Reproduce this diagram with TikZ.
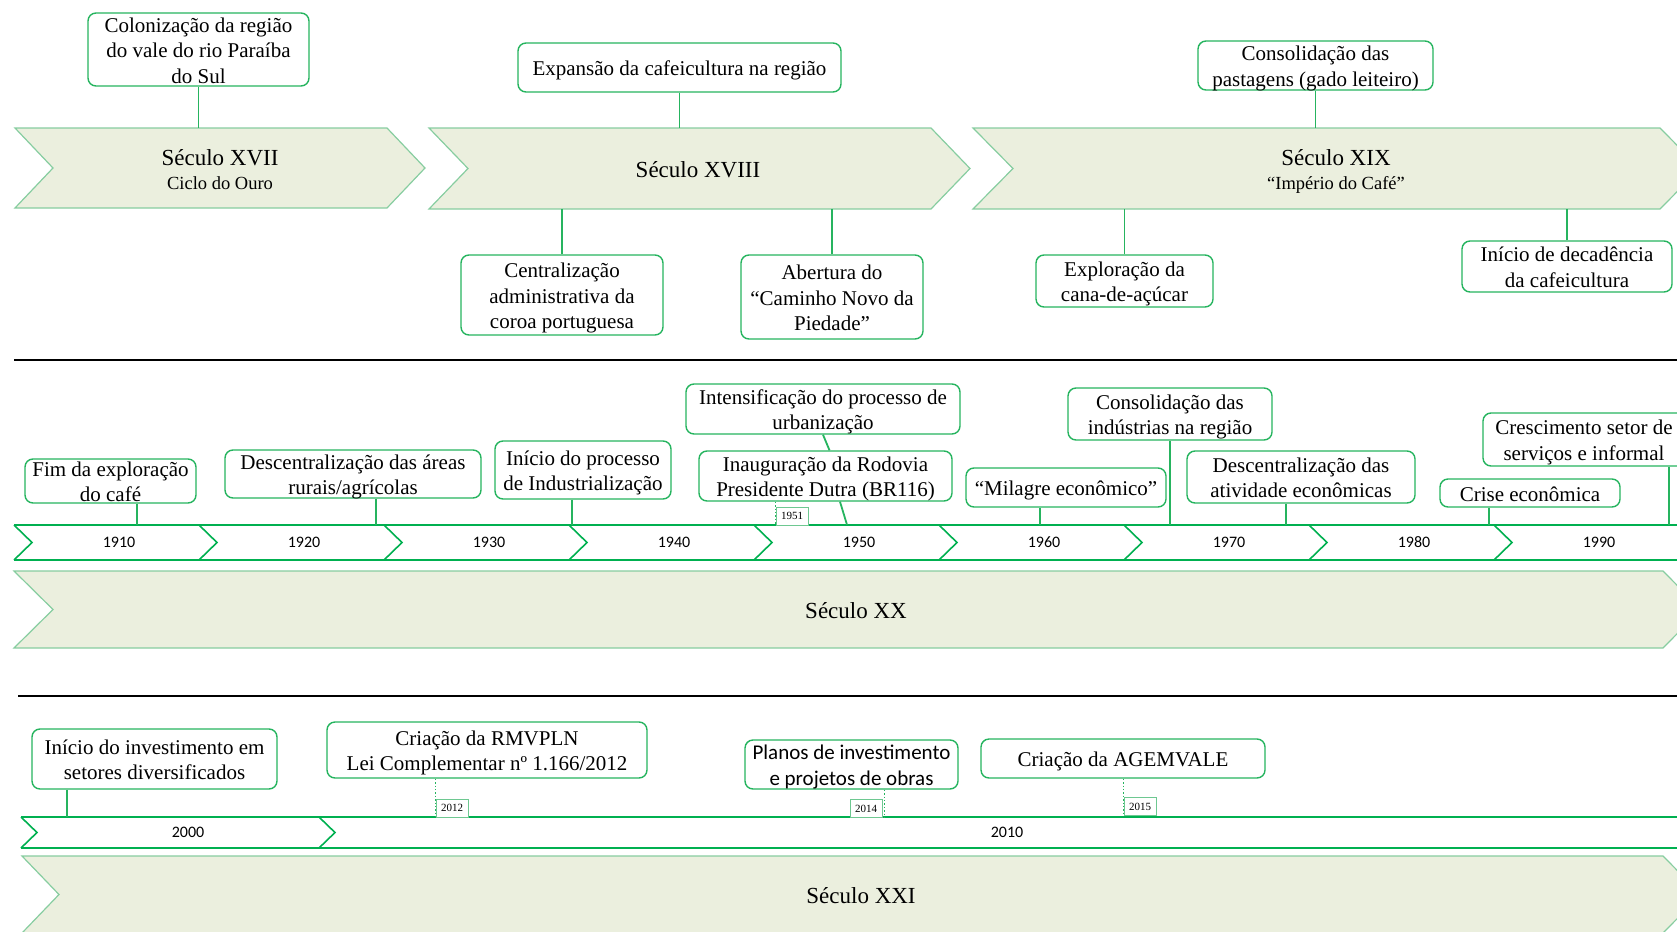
\documentclass[tikz,border=0pt]{standalone}
\usepackage{fontspec}
\setmainfont{Liberation Serif}
\newfontfamily\calibri{Carlito}
\usepackage{tikz}
\definecolor{boxgreen}{RGB}{38,180,95}
\definecolor{eraline}{RGB}{135,205,160}
\definecolor{erafill}{RGB}{235,239,222}
\definecolor{stripgreen}{RGB}{0,176,80}
\definecolor{taggreen}{RGB}{110,200,145}
\newcommand\evtext[1]{\raisebox{-8.2pt}[0pt][0pt]{\begin{tabular}{@{}c@{}}#1\end{tabular}}}
\tikzset{
  event/.style={draw=boxgreen, line width=1.4pt, rounded corners=8pt, fill=white,
    inner sep=0pt, font={\fontsize{21}{25.5}\selectfont}},
  era/.style={draw=eraline, line width=1.2pt, fill=erafill},
  eraname/.style={align=center, inner sep=0pt, font={\fontsize{23}{26}\selectfont}},
  yearlbl/.style={inner sep=0pt, font={\calibri\fontsize{16}{19}\selectfont}},
  tag/.style={draw=taggreen, line width=0.8pt, fill=white, minimum width=32,
    minimum height=18, inner sep=0pt, font={\fontsize{11}{13}\selectfont}},
  link/.style={draw=boxgreen, line width=1.8pt},
  dotlink/.style={draw=boxgreen, line width=1.4pt, dotted},
  strip/.style={draw=stripgreen, line width=1.6pt}
}

\begin{document}
\begin{tikzpicture}[x=1pt, y=-1pt]
\useasboundingbox (0,0) rectangle (1677,931);
\clip (0,0) rectangle (1677,931);
% seculos XVII - XIX
\draw[era] (15,128) coordinate (xviiN) -- (387,128) -- (425,168) -- (387,208) -- (15,208) coordinate (xviiS) -- (53,168) -- cycle;
\draw[era] (429,128) coordinate (xviiiN) -- (931,128) -- (970,168.5) -- (931,209) -- (429,209) coordinate (xviiiS) -- (468,168.5) -- cycle;
\draw[era] (973,128) coordinate (xixN) -- (1660,128) -- (1700,168.5) -- (1660,209) -- (973,209) coordinate (xixS) -- (1013,168.5) -- cycle;
\node[eraname] (xvii) at (220,170) {Século XVII\\[-2pt]{\fontsize{18.5}{21}\selectfont Ciclo do Ouro}};
\node[eraname] (xviii) at (698,169.5) {Século XVIII};
\node[eraname] (xix) at (1336,171.5) {Século XIX\\[-2pt]{\fontsize{18.5}{21}\selectfont “Império do Café”}};

\node[event, minimum width=221, minimum height=73] (colon) at (198.5,49.5) {\evtext{Colonização da região\\do vale do rio Paraíba\\do Sul}};
\node[event, minimum width=323, minimum height=49] (expan) at (679.5,67.5) {\evtext{Expansão da cafeicultura na região}};
\node[event, minimum width=235, minimum height=49] (consol) at (1315.5,65.5) {\evtext{Consolidação das\\pastagens (gado leiteiro)}};
\node[event, minimum width=202, minimum height=80] (centr) at (562,295) {\evtext{Centralização\\administrativa da\\coroa portuguesa}};
\node[event, minimum width=182, minimum height=84] (abert) at (832,297) {\evtext{Abertura do\\“Caminho Novo da\\Piedade”}};
\node[event, minimum width=177, minimum height=52] (explo) at (1124.5,281) {\evtext{Exploração da\\cana-de-açúcar}};
\node[event, minimum width=210, minimum height=51] (decad) at (1567,266.5) {\evtext{Início de decadência\\da cafeicultura}};

\draw[link] (colon.south) -- (colon.south |- xviiN);
\draw[link] (expan.south) -- (expan.south |- xviiiN);
\draw[link] (consol.south) -- (consol.south |- xixN);
\draw[link] (centr.north) -- (centr.north |- xviiiS);
\draw[link] (abert.north) -- (abert.north |- xviiiS);
\draw[link] (explo.north) -- (explo.north |- xixS);
\draw[link] (decad.north) -- (decad.north |- xixS);

\draw[line width=1.6pt] (14,360) -- (1677,360);

% seculo XX
\draw[strip] (14,525) -- (1677,525) (14,560) -- (1677,560);
\foreach \k in {0,...,8}
  \draw[strip] ({14+185*\k},525) -- ({32+185*\k},542.5) -- ({14+185*\k},560);
\foreach \yr [count=\k from 0] in {1910,1920,...,1990}
  \node[yearlbl, minimum height=35] (y\yr) at ({119+185*\k},542.5) {\yr};
\draw[era] (14,571) -- (1663,571) -- (1701,609.5) -- (1663,648) -- (14,648) -- (53,609.5) -- cycle;
\node[eraname] (xx) at (856,610.5) {Século XX};

\node[event, minimum width=171, minimum height=44] (fim) at (110.5,481) {\evtext{Fim da exploração\\do café}};
\node[event, minimum width=256, minimum height=48] (desca) at (353,474) {\evtext{Descentralização das áreas\\rurais/agrícolas}};
\node[event, minimum width=176, minimum height=58] (indus) at (583,470) {\evtext{Início do processo\\de Industrialização}};
\node[event, minimum width=274, minimum height=50] (urban) at (823,409) {\evtext{Intensificação do processo de\\urbanização}};
\node[event, minimum width=253, minimum height=50] (inaug) at (825.5,476) {\evtext{Inauguração da Rodovia\\Presidente Dutra (BR116)}};
\node[event, minimum width=200, minimum height=39] (milag) at (1066,487.5) {\evtext{“Milagre econômico”}};
\node[event, minimum width=204, minimum height=52] (consind) at (1170,414) {\evtext{Consolidação das\\indústrias na região}};
\node[event, minimum width=228, minimum height=52] (descb) at (1301,477) {\evtext{Descentralização das\\atividade econômicas}};
\node[event, minimum width=180, minimum height=28] (crise) at (1530,493) {\evtext{Crise econômica}};
\node[event, minimum width=202, minimum height=53] (cresc) at (1584,439.5) {\evtext{Crescimento setor de\\serviços e informal}};
\node[tag] (t1951) at (792,516) {1951};

\draw[link] ([xshift=26.5]fim.south) -- ([xshift=26.5]fim.south |- y1910.north);
\draw[link] ([xshift=23]desca.south) -- ([xshift=23]desca.south |- y1920.north);
\draw[link] ([xshift=-11]indus.south) -- ([xshift=-11]indus.south |- y1940.north);
\draw[link] (urban.south) -- ([xshift=4]inaug.north);
\draw[link] ([xshift=14.5]inaug.south) -- ([xshift=21.5]inaug.south |- y1950.north);
\draw[dotlink] (t1951.south west |- inaug.south) -- (t1951.south west);
\draw[link] ([xshift=-26]milag.south) -- ([xshift=-26]milag.south |- y1960.north);
\draw[link] (consind.south) -- (consind.south |- y1970.north);
\draw[link] ([xshift=-15]descb.south) -- ([xshift=-15]descb.south |- y1970.north);
\draw[link] ([xshift=-41]crise.south) -- ([xshift=-41]crise.south |- y1990.north);
\draw[link] ([xshift=85]cresc.south) -- ([xshift=85]cresc.south |- y1990.north);

\draw[line width=1.6pt] (18,696) -- (1677,696);

% seculo XXI
\draw[strip] (21,817) -- (1677,817) (21,848) -- (1677,848);
\foreach \xa in {21,319}
  \draw[strip] (\xa,817) -- ({\xa+16},832.5) -- (\xa,848);
\node[yearlbl, minimum height=31] (y2000) at (188,832.5) {2000};
\node[yearlbl, minimum height=31] (y2010) at (1007,832.5) {2010};
\draw[era] (22,856) -- (1663,856) -- (1701,894.5) -- (1663,933) -- (22,933) -- (59,894.5) -- cycle;
\node[eraname] (xxi) at (861,895.5) {Século XXI};

\node[event, minimum width=245, minimum height=60] (invest) at (154.5,759) {\evtext{Início do investimento em\\setores diversificados}};
\node[event, minimum width=320, minimum height=56] (rmv) at (487,750) {\evtext{Criação da RMVPLN\\Lei Complementar nº 1.166/2012}};
\node[event, minimum width=213, minimum height=49, font={\calibri\fontsize{21}{25.5}\selectfont}] (planos) at (851.5,764.5) {\evtext{Planos de investimento\\e projetos de obras}};
\node[event, minimum width=284, minimum height=39] (agem) at (1123,758.5) {\evtext{Criação da AGEMVALE}};
\node[tag] (t2012) at (452,808) {2012};
\node[tag] (t2014) at (866,808.5) {2014};
\node[tag] (t2015) at (1140,806.5) {2015};

\draw[link] ([xshift=-87.5]invest.south) -- ([xshift=-87.5]invest.south |- y2000.north);
\draw[dotlink] (t2012.south west |- rmv.south) -- (t2012.south west);
\draw[dotlink] ([xshift=2]t2014.south east |- planos.south) -- ([xshift=2]t2014.south east);
\draw[dotlink] (t2015.south west |- agem.south) -- (t2015.south west);
\end{tikzpicture}
\end{document}
